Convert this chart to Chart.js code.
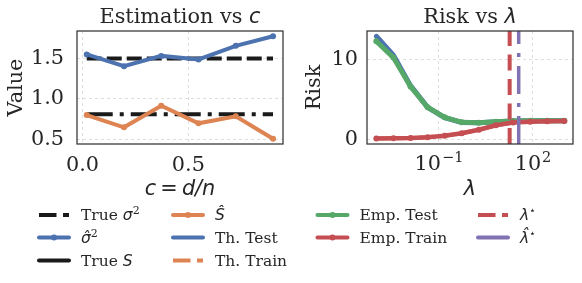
<!DOCTYPE html>
<html lang="en">
<head>
<meta charset="UTF-8">
<title>Estimation vs c / Risk vs lambda</title>
<script src="https://cdn.jsdelivr.net/npm/chart.js"></script>
<style>
  body { margin: 0; background: #fff; }
  .fig { position: relative; width: 582px; height: 283px; overflow: hidden;
         font-family: "DejaVu Serif", serif; color: #262626; }
  canvas.panel { position: absolute; top: 0; }
  .ttl { position: absolute; top: 3px; height: 26px; line-height: 26px; text-align: center;
         font-size: 20.8px; white-space: nowrap; }
  .m { font-family: "DejaVu Sans", sans-serif; font-style: italic; }
  .leg { position: absolute; font-size: 15.5px; height: 20px; line-height: 20px; white-space: nowrap; }
  .leg sup { font-size: 11px; position: relative; top: -6px; vertical-align: baseline; }
</style>
</head>
<body>
<div class="fig">
  <canvas id="left" class="panel" width="290" height="200" style="left:0"></canvas>
  <canvas id="right" class="panel" width="292" height="200" style="left:290px"></canvas>
  <div class="ttl" style="left:77px;width:206px">Estimation vs <span class="m">c</span></div>
  <div class="ttl" style="left:367px;width:206px">Risk vs <span class="m">λ</span></div>
  <canvas id="legendLines" width="582" height="83" style="position:absolute;left:0;top:200px"></canvas>
  <div id="legendText"></div>
</div>
<script>
// colours (seaborn "deep")
const BLUE = '#4C72B0', ORANGE = '#DD8452', GREEN = '#55A868', RED = '#C44E52', PURPLE = '#8172B3', BLACK = '#1a1a1a';

// left panel: estimation vs c
const cRatio    = [0.02, 0.196, 0.372, 0.548, 0.724, 0.9];
const sigma2Hat = [1.55, 1.405, 1.532, 1.488, 1.656, 1.775];
const sHat      = [0.80, 0.648, 0.915, 0.698, 0.784, 0.507];
const trueSpan   = [0.02, 0.9];
const trueSigma2 = [1.5, 1.5];
const trueS      = [0.81, 0.81];
const cTicks     = [0.0, 0.5];
const valueTicks = [0.5, 1.0, 1.5];

// right panel: risk vs lambda
const lambdas  = [0.001, 0.003511, 0.01233, 0.04329, 0.152, 0.5337, 1.874, 6.579, 23.1, 81.11, 284.8, 1000];
const thTest   = [12.86, 10.5, 6.7, 4.0, 2.7, 2.1, 2.06, 2.2, 2.28, 2.32, 2.33, 2.33];
const empTest  = [12.24, 10.2, 6.6, 4.0, 2.74, 2.12, 2.08, 2.2, 2.28, 2.32, 2.33, 2.33];
const thTrain  = [0.1, 0.12, 0.16, 0.25, 0.45, 0.75, 1.2, 1.75, 2.1, 2.2, 2.25, 2.3];
const empTrain = [0.1, 0.12, 0.16, 0.25, 0.45, 0.75, 1.2, 1.75, 2.1, 2.2, 2.25, 2.3];
const lambdaStar    = 18;
const lambdaHatStar = 35;
const lambdaTicks   = [0.1, 100];
const lambdaTickExp = ['\u22121', '2'];
const riskTicks     = [0, 10];
const riskMin = -0.585, riskMax = 13.52;

const pts = (xs, ys) => xs.map((x, i) => ({ x: x, y: ys[i] }));

// box around the plot area, drawn over the lines like matplotlib spines
const framePlugin = {
  id: 'frame',
  afterDraw(chart) {
    const { ctx, chartArea: a } = chart;
    ctx.save();
    ctx.strokeStyle = '#333';
    ctx.lineWidth = 1.25;
    ctx.strokeRect(a.left, a.top, a.right - a.left, a.bottom - a.top);
    ctx.restore();
  }
};

// 10^k tick labels with a real raised exponent
const powerTicksPlugin = {
  id: 'powerTicks',
  afterDraw(chart) {
    const { ctx } = chart;
    const xs = chart.scales.x;
    ctx.save();
    ctx.fillStyle = '#262626';
    ctx.textBaseline = 'alphabetic';
    lambdaTicks.forEach((v, i) => {
      const px = xs.getPixelForValue(v);
      ctx.font = '20.8px "DejaVu Serif"';
      const wb = ctx.measureText('10').width;
      ctx.font = '14.5px "DejaVu Serif"';
      const we = ctx.measureText(lambdaTickExp[i]).width;
      const x0 = px - (wb + we + 1) / 2;
      const base = xs.top + 26;
      ctx.font = '20.8px "DejaVu Serif"';
      ctx.fillText('10', x0, base);
      ctx.font = '14.5px "DejaVu Serif"';
      ctx.fillText(lambdaTickExp[i], x0 + wb + 1, base - 8);
    });
    ctx.restore();
  }
};

const tickFont  = { family: 'DejaVu Serif', size: 20.8 };
const serifFont = { family: 'DejaVu Serif', size: 20.8 };
const mathFont  = { family: 'DejaVu Sans', size: 20.8, style: 'italic' };

function line(label, data, color, extra) {
  return Object.assign({
    label: label, data: data, showLine: true, borderColor: color, backgroundColor: color,
    borderWidth: 4, pointRadius: 0, pointBorderWidth: 0, borderCapStyle: 'round', clip: 0
  }, extra || {});
}

function options(cfg) {
  return {
    responsive: false, animation: false, devicePixelRatio: 1,
    layout: { padding: { top: 31, right: cfg.right, left: 0, bottom: 0 } },
    plugins: { legend: { display: false }, tooltip: { enabled: false } },
    scales: {
      x: {
        type: cfg.xType, min: cfg.xMin, max: cfg.xMax,
        afterFit(s) { s.height = 56; },
        afterBuildTicks(s) { s.ticks = cfg.xTicks.map(v => ({ value: v })); },
        ticks: { display: cfg.xTickText, font: tickFont, color: '#262626', padding: 9, maxRotation: 0,
                 autoSkip: false, callback: cfg.xLabel },
        grid: { color: '#dedede', lineWidth: 1, drawTicks: false },
        border: { display: false, dash: [3, 3] },
        title: { display: true, text: cfg.xTitle, font: mathFont, color: '#262626', padding: { top: 0, bottom: -2 } }
      },
      y: {
        type: 'linear', min: cfg.yMin, max: cfg.yMax,
        afterFit(s) { s.width = 77; },
        afterBuildTicks(s) { s.ticks = cfg.yTicks.map(v => ({ value: v })); },
        ticks: { font: tickFont, color: '#262626', padding: cfg.yPad, callback: cfg.yLabel },
        grid: { color: '#dedede', lineWidth: 1, drawTicks: false },
        border: { display: false, dash: [3, 3] },
        title: { display: true, text: cfg.yTitle, font: serifFont, color: '#262626',
                 padding: { top: cfg.yTitlePad, bottom: 0 } }
      }
    }
  };
}

new Chart(document.getElementById('left'), {
  type: 'scatter',
  data: {
    datasets: [
      line('σ̂²', pts(cRatio, sigma2Hat), BLUE, { pointRadius: 3 }),
      line('Ŝ', pts(cRatio, sHat), ORANGE, { pointRadius: 3 }),
      line('True σ²', pts(trueSpan, trueSigma2), BLACK, { borderDash: [15, 5], borderCapStyle: 'butt' }),
      line('True S', pts(trueSpan, trueS), BLACK, { borderDash: [26, 7, 4, 7], borderCapStyle: 'butt' })
    ]
  },
  options: options({
    right: 7, xType: 'linear', xMin: -0.026, xMax: 0.947, xTicks: cTicks, xTickText: true,
    xLabel: v => v.toFixed(1), xTitle: 'c\u2009=\u2009d/n',
    yMin: 0.442, yMax: 1.84, yTicks: valueTicks, yLabel: v => v.toFixed(1), yPad: 13,
    yTitle: 'Value', yTitlePad: 4
  }),
  plugins: [framePlugin]
});

new Chart(document.getElementById('right'), {
  type: 'scatter',
  data: {
    datasets: [
      line('λ̂*', pts([lambdaHatStar, lambdaHatStar], [riskMin, riskMax]), PURPLE,
           { borderWidth: 3.5, borderDash: [28, 9, 4, 9], borderCapStyle: 'butt' }),
      line('λ*', pts([lambdaStar, lambdaStar], [riskMin, riskMax]), RED,
           { borderDash: [16, 8.5], borderCapStyle: 'butt' }),
      line('Emp. Train', pts(lambdas, empTrain), RED, { borderWidth: 4.5, pointRadius: 3 }),
      line('Th. Train', pts(lambdas, thTrain), ORANGE, { borderDash: [15, 6], borderCapStyle: 'butt' }),
      line('Emp. Test', pts(lambdas, empTest), GREEN, { borderWidth: 5, pointRadius: 3 }),
      line('Th. Test', pts(lambdas, thTest), BLUE, { borderWidth: 5 })
    ]
  },
  options: options({
    right: 9, xType: 'logarithmic', xMin: Math.pow(10, -3.298), xMax: Math.pow(10, 3.277), xTicks: lambdaTicks,
    xTickText: false, xLabel: () => '', xTitle: 'λ',
    yMin: riskMin, yMax: riskMax, yTicks: riskTicks, yLabel: v => String(v), yPad: 9,
    yTitle: 'Risk', yTitlePad: 12.5
  }),
  plugins: [framePlugin, powerTicksPlugin]
});

// shared legend below both panels, 4 columns filled column by column
const legendCols = [39, 173, 317.5, 478];
const legendRows = [15, 37.5, 60.5];
const legendItems = [
  { col: 0, row: 0, color: BLACK,  dash: [17.5, 6.5], label: 'True <span class="m">σ</span><sup>2</sup>' },
  { col: 0, row: 1, color: BLUE,   marker: true, label: '<span class="m">σ\u0302</span><sup>2</sup>' },
  { col: 0, row: 2, color: BLACK,  label: 'True <span class="m">S</span>' },
  { col: 1, row: 0, color: ORANGE, marker: true, label: '<span class="m">S\u0302</span>' },
  { col: 1, row: 1, color: BLUE,   label: 'Th. Test' },
  { col: 1, row: 2, color: ORANGE, dash: [17.5, 6.5], label: 'Th. Train' },
  { col: 2, row: 0, color: GREEN,  marker: true, label: 'Emp. Test' },
  { col: 2, row: 1, color: RED,    marker: true, label: 'Emp. Train' },
  { col: 3, row: 0, color: RED,    dash: [17.5, 6.5], label: '<span class="m">λ</span><sup>⋆</sup>' },
  { col: 3, row: 1, color: PURPLE, label: '<span class="m">λ\u0302</span><sup>⋆</sup>' }
];

const lctx = document.getElementById('legendLines').getContext('2d');
const ltext = document.getElementById('legendText');
legendItems.forEach(it => {
  const x0 = legendCols[it.col], y = legendRows[it.row];
  lctx.save();
  lctx.strokeStyle = it.color;
  lctx.lineWidth = 4;
  lctx.lineCap = it.dash ? 'butt' : 'round';
  lctx.setLineDash(it.dash || []);
  lctx.beginPath();
  lctx.moveTo(x0, y);
  lctx.lineTo(x0 + 30, y);
  lctx.stroke();
  if (it.marker) {
    lctx.fillStyle = it.color;
    lctx.beginPath();
    lctx.arc(x0 + 15, y, 3, 0, Math.PI * 2);
    lctx.fill();
  }
  lctx.restore();
  const d = document.createElement('div');
  d.className = 'leg';
  d.style.left = (x0 + 42) + 'px';
  d.style.top = (200 + y - 10) + 'px';
  d.innerHTML = it.label;
  ltext.appendChild(d);
});
</script>
</body>
</html>
